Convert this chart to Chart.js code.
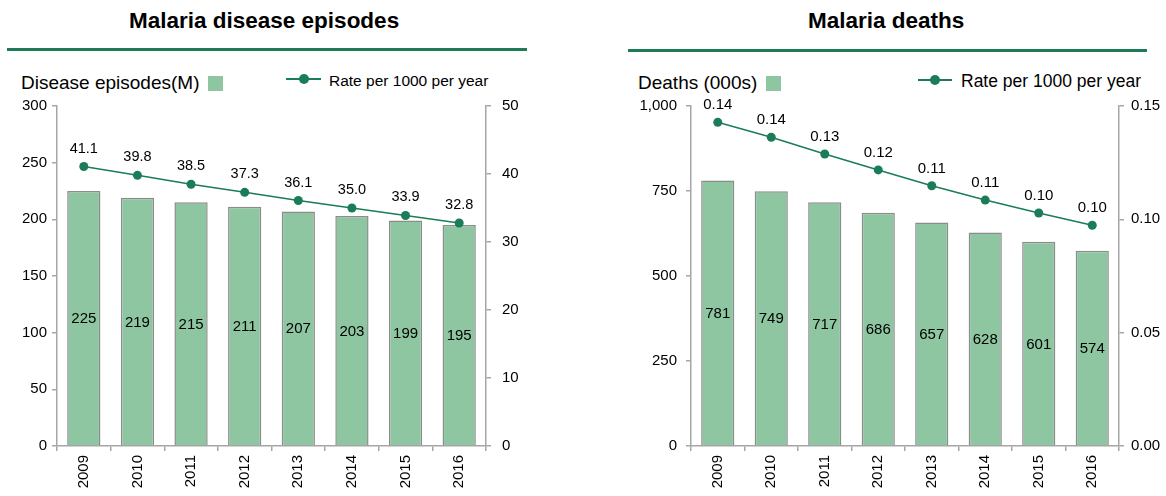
<!DOCTYPE html>
<html>
<head>
<meta charset="utf-8">
<script src="https://cdn.jsdelivr.net/npm/chart.js@4.4.1/dist/chart.umd.min.js"></script>
<style>
  html, body { margin:0; padding:0; background:#fff; width:1166px; height:496px; overflow:hidden; font-family:"Liberation Sans", Arial, sans-serif; color:#000; }
  .abs { position:absolute; white-space:nowrap; }
  .title { font-weight:bold; font-size:22.5px; top:8px; }
  .rule { height:3px; background:#1f7a56; }
  .sq { width:15px; height:15px; background:#8dc6a0; }
  .lline { height:2px; background:#1a7d58; }
  .ldot { width:10px; height:10px; border-radius:50%; background:#1a7d58; }
  canvas { position:absolute; }
</style>
</head>
<body>
<div class="abs title" style="left:129px;">Malaria disease episodes</div>
<div class="abs rule" style="left:7px; top:48px; width:520px;"></div>
<div class="abs" style="left:21px; top:72px; font-size:19px;">Disease episodes(M)</div>
<div class="abs sq" style="left:208px; top:76px;"></div>
<div class="abs lline" style="left:286px; top:78px; width:35px;"></div>
<div class="abs ldot" style="left:299px; top:74px;"></div>
<div class="abs" style="left:329px; top:72px; font-size:15.5px;">Rate per 1000 per year</div>

<div class="abs title" style="left:808px;">Malaria deaths</div>
<div class="abs rule" style="left:628px; top:49px; width:519px;"></div>
<div class="abs" style="left:638px; top:72px; font-size:19px;">Deaths (000s)</div>
<div class="abs sq" style="left:766px; top:76px;"></div>
<div class="abs lline" style="left:918px; top:79px; width:34px;"></div>
<div class="abs ldot" style="left:930px; top:75px;"></div>
<div class="abs" style="left:961px; top:71px; font-size:17.5px;">Rate per 1000 per year</div>

<canvas id="c1" width="560" height="401" style="left:0px; top:95px;"></canvas>
<canvas id="c2" width="566" height="401" style="left:600px; top:95px;"></canvas>

<script>
const years = ['2009','2010','2011','2012','2013','2014','2015','2016'];
const episodes = [225, 219, 215, 211, 207, 203, 199, 195];
const episodeRate = [41.1, 39.8, 38.5, 37.3, 36.1, 35.0, 33.9, 32.8];
const deaths = [781, 749, 717, 686, 657, 628, 601, 574];
const deathRate = [0.1428, 0.1362, 0.1288, 0.1218, 0.1148, 0.1085, 0.1028, 0.0974];

const FONT = '"Liberation Sans", Arial, sans-serif';
const BAR_FILL = '#8dc6a0';
const BAR_BORDER = '#8c8c8c';
const LINE_COL = '#1a7d58';
const AXIS_COL = '#a6a6a6';

const labelPlugin = {
  id: 'valueLabels',
  afterDatasetsDraw(chart, args, opts) {
    const ctx = chart.ctx;
    ctx.save();
    ctx.fillStyle = '#000';
    ctx.textAlign = 'center';
    ctx.textBaseline = 'middle';
    chart.data.datasets.forEach((ds, di) => {
      const meta = chart.getDatasetMeta(di);
      meta.data.forEach((el, i) => {
        const v = ds.data[i];
        if (ds.type === 'bar') {
          ctx.font = '15px ' + FONT;
          ctx.fillText(String(v), el.x, (el.y + el.base) / 2 + 1);
        } else {
          ctx.font = opts.lineFont + ' ' + FONT;
          ctx.fillText(v.toFixed(opts.decimals), el.x, el.y - opts.offset);
        }
      });
    });
    ctx.restore();
  }
};

function fixV(w) {
  return s => { s.width = w; s.paddingTop = 0; s.paddingBottom = 0; };
}

function makeChart(id, bars, rates, cfg) {
  return new Chart(document.getElementById(id), {
    type: 'bar',
    data: {
      labels: years,
      datasets: [
        { type: 'line', data: rates, yAxisID: 'y1', order: 0,
          borderColor: LINE_COL, borderWidth: 1.5, pointRadius: 4.5,
          pointBackgroundColor: LINE_COL, pointBorderColor: LINE_COL, pointBorderWidth: 0, tension: 0 },
        { type: 'bar', data: bars, yAxisID: 'y', order: 1,
          backgroundColor: BAR_FILL, borderColor: BAR_BORDER, borderWidth: 1.5,
          barPercentage: 0.62, categoryPercentage: 1.0 }
      ]
    },
    options: {
      responsive: false, animation: false, devicePixelRatio: 1,
      layout: { padding: { top: 11, left: 0, right: 0, bottom: 0 } },
      plugins: { legend: { display: false }, tooltip: { enabled: false },
        valueLabels: { decimals: cfg.decimals, offset: cfg.offset, lineFont: cfg.lineFont } },
      scales: {
        x: {
          type: 'category', offset: true,
          grid: { offset: true, drawOnChartArea: false, drawTicks: true, tickLength: 5, color: AXIS_COL, lineWidth: 1.5 },
          border: { color: AXIS_COL, width: 1.5 },
          ticks: { minRotation: 90, maxRotation: 90, padding: 4, color: '#000', font: { family: FONT, size: 15 } },
          afterFit: s => { s.height = 50; s.paddingLeft = 0; s.paddingRight = 0; }
        },
        y: {
          position: 'left', min: 0, max: cfg.yMax,
          grid: { drawOnChartArea: false, drawTicks: true, tickLength: 5, color: AXIS_COL, lineWidth: 1.5 },
          border: { color: AXIS_COL, width: 1.5 },
          ticks: { stepSize: cfg.yStep, padding: cfg.yPad, color: '#000', font: { family: FONT, size: 15 },
            callback: v => Number(v).toLocaleString('en-US') },
          afterFit: fixV(cfg.leftW)
        },
        y1: {
          position: 'right', min: 0, max: cfg.y1Max,
          grid: { drawOnChartArea: false, drawTicks: true, tickLength: 5, color: AXIS_COL, lineWidth: 1.5 },
          border: { color: AXIS_COL, width: 1.5 },
          ticks: { stepSize: cfg.y1Step, padding: cfg.y1Pad, color: '#000', font: { family: FONT, size: 15 },
            callback: v => Number(v).toFixed(cfg.y1Dec) },
          afterFit: fixV(cfg.rightW)
        }
      }
    },
    plugins: [labelPlugin]
  });
}

makeChart('c1', episodes, episodeRate, {
  yMax: 300, yStep: 50, y1Max: 50, y1Step: 10, y1Dec: 0,
  leftW: 57, rightW: 74, yPad: 5, y1Pad: 11,
  decimals: 1, offset: 18, lineFont: '14.5px'
});
makeChart('c2', deaths, deathRate, {
  yMax: 1000, yStep: 250, y1Max: 0.15, y1Step: 0.05, y1Dec: 2,
  leftW: 91, rightW: 47, yPad: 9, y1Pad: 7,
  decimals: 2, offset: 17, lineFont: '15px'
});
</script>
</body>
</html>
